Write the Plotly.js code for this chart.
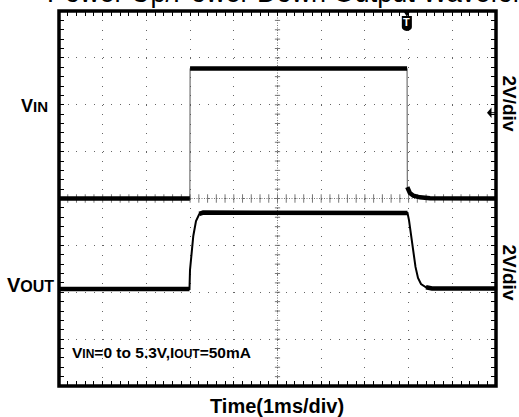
<!DOCTYPE html>
<html>
<head>
<meta charset="utf-8">
<script src="https://cdn.plot.ly/plotly-3.0.1.min.js"></script>
<style>html,body{margin:0;padding:0;background:#fff;}#chart{width:519px;height:417px;}</style>
</head>
<body>
<div id="chart"></div>
<script>
// ---- Data (time in ms, voltage in V) ----
const timeVin = [0, 2.995, 3.0, 7.965, 7.97, 8.03, 8.11, 8.26, 8.49, 10];
const vin     = [0, 0, 5.55, 5.55, 0.49, 0.23, 0.12, 0.05, 0.01, 0];

const timeVout = [0, 2.986, 2.998, 3.037, 3.073, 3.135, 3.21, 3.30, 7.975, 8.009, 8.055, 8.108, 8.158, 8.215, 8.284, 8.398, 8.535, 10];
const vout     = [0, 0, 0.81, 1.58, 2.26, 2.90, 3.20, 3.26, 3.24, 2.94, 2.30, 1.54, 0.94, 0.47, 0.21, 0.07, 0.02, 0.02];

const triggerTime = 7.96;     // ms
const triggerLevel = 3.66;    // V on VIN channel
const voutOffsetDiv = -1.93;  // VOUT channel ground position (divisions from centre)
const voltsPerDiv = 2;

const titleText = "Power Up/Power Down Output Waveform";
const xTitle = "Time(1ms/div)";
const chLabelVin = "V<span style='font-size:15px'>IN</span>";
const chLabelVout = "V<span style='font-size:16px'>OUT</span>";
const scaleLabel = "2V/div";
const condLabel = "V<span style='font-size:12px'>IN</span>=0 to 5.3V,I<span style='font-size:12px'>OUT</span>=50mA";

// ---- geometry helpers (layout only) ----
const W = 519, H = 417, ML = 59, MR = 23, MT = 11, MB = 31;
const PW = W - ML - MR, PH = H - MT - MB;
const px = v => (v - ML) / PW;
const py = v => 1 - (v - MT) / PH;
const FONT = "Liberation Sans, Arial, sans-serif";

// split a trace into "flat" part (thick) by nulling steep segments
function flatPart(t, v, maxSlope) {
  const xs = [], ys = [];
  for (let i = 0; i < t.length; i++) {
    if (i > 0) {
      const s = Math.abs((v[i] - v[i-1]) / (t[i] - t[i-1]));
      if (s > maxSlope) { xs.push(null); ys.push(null); }
    }
    xs.push(t[i]); ys.push(v[i]);
  }
  return {x: xs, y: ys};
}

const vinFlat = flatPart(timeVin, vin, 50);
const voutFlat = flatPart(timeVout, vout, 1);

const traces = [
  {x: timeVin, y: vin, type: 'scatter', mode: 'lines', line: {color: '#555', width: 1}, yaxis: 'y', hoverinfo: 'skip'},
  {x: vinFlat.x, y: vinFlat.y, type: 'scatter', mode: 'lines', line: {color: '#000', width: 4.5}, connectgaps: false, yaxis: 'y', hoverinfo: 'skip'},
  {x: timeVout, y: vout, type: 'scatter', mode: 'lines', line: {color: '#000', width: 2}, yaxis: 'y2', hoverinfo: 'skip'},
  {x: voutFlat.x, y: voutFlat.y, type: 'scatter', mode: 'lines', line: {color: '#000', width: 4.5}, connectgaps: false, yaxis: 'y2', hoverinfo: 'skip'}
];

// ---- shapes: frame, centre crosshair, markers ----
const shapes = [];
shapes.push({type: 'line', xref: 'x', yref: 'paper', x0: 5, x1: 5, y0: 0, y1: 1, layer: 'below', line: {color: '#777', width: 1, dash: '1px,1.5px'}});
shapes.push({type: 'line', xref: 'paper', yref: 'y', x0: 0, x1: 1, y0: 0, y1: 0, layer: 'below', line: {color: '#777', width: 1, dash: '1px,1.5px'}});
for (let k = -20; k <= 20; k++) {
  const yv = k * 0.4;
  shapes.push({type: 'line', xref: 'x', yref: 'y', x0: 4.94, x1: 5.06, y0: yv, y1: yv, layer: 'below', line: {color: '#777', width: 1}});
}
for (let k = 0; k <= 50; k++) {
  const xv = k * 0.2;
  shapes.push({type: 'line', xref: 'x', yref: 'y', x0: xv, x1: xv, y0: -0.18, y1: 0.18, layer: 'below', line: {color: '#777', width: 1}});
}
shapes.push({type: 'rect', xref: 'paper', yref: 'paper', x0: 0, x1: 1, y0: 0, y1: 1, line: {color: '#000', width: 3.5}});
// trigger marker triangle
shapes.push({type: 'path', xref: 'x', yref: 'paper', path: `M ${triggerTime-0.08},1 L ${triggerTime+0.08},1 L ${triggerTime},0.985 Z`, fillcolor: '#000', line: {color: '#000', width: 0}});
// trigger marker shield body
shapes.push({type: 'path', xref: 'x', yref: 'paper',
  path: `M ${triggerTime-0.115},${py(16)} L ${triggerTime+0.115},${py(16)} L ${triggerTime+0.115},${py(27)} Q ${triggerTime+0.115},${py(30)} ${triggerTime},${py(31)} Q ${triggerTime-0.115},${py(30)} ${triggerTime-0.115},${py(27)} Z`,
  fillcolor: '#000', line: {color: '#000', width: 0}});
// trigger level arrow (right edge)
shapes.push({type: 'path', xref: 'paper', yref: 'y', path: `M ${px(487)},${triggerLevel} L ${px(491.5)},${triggerLevel+0.22} L ${px(491.5)},${triggerLevel-0.22} Z`, fillcolor: '#000', line: {color: '#000', width: 0}});
shapes.push({type: 'line', xref: 'paper', yref: 'y', x0: px(490), x1: px(495), y0: triggerLevel, y1: triggerLevel, line: {color: '#000', width: 1}});

const annotations = [
  {text: titleText, xref: 'paper', yref: 'paper', x: px(45), y: py(-7.5), xanchor: 'left', yanchor: 'middle', showarrow: false, font: {family: FONT, size: 27, color: '#000'}},
  {text: '<b>' + chLabelVin + '</b>', xref: 'paper', yref: 'paper', x: px(50), y: py(106), xanchor: 'right', yanchor: 'middle', showarrow: false, font: {family: FONT, size: 18, color: '#000'}},
  {text: '<b>' + chLabelVout + '</b>', xref: 'paper', yref: 'paper', x: px(56), y: py(285), xanchor: 'right', yanchor: 'middle', showarrow: false, font: {family: FONT, size: 20, color: '#000'}},
  {text: '<b>' + scaleLabel + '</b>', xref: 'paper', yref: 'paper', x: px(509), y: py(103.5), xanchor: 'center', yanchor: 'middle', textangle: 90, showarrow: false, font: {family: FONT, size: 19, color: '#000'}},
  {text: '<b>' + scaleLabel + '</b>', xref: 'paper', yref: 'paper', x: px(509), y: py(272.5), xanchor: 'center', yanchor: 'middle', textangle: 90, showarrow: false, font: {family: FONT, size: 19, color: '#000'}},
  {text: '<b>' + condLabel + '</b>', xref: 'paper', yref: 'paper', x: px(70), y: py(352.5), xanchor: 'left', yanchor: 'middle', showarrow: false, font: {family: FONT, size: 15.5, color: '#000'}},
  {text: '<b>' + xTitle + '</b>', xref: 'paper', yref: 'paper', x: px(277), y: py(405.5), xanchor: 'center', yanchor: 'middle', showarrow: false, font: {family: FONT, size: 20, color: '#000'}},
  {text: '<b>T</b>', xref: 'x', yref: 'paper', x: triggerTime, y: py(22.5), xanchor: 'center', yanchor: 'middle', showarrow: false, font: {family: FONT, size: 11, color: '#fff'}}
];

const axisCommon = {
  showticklabels: false, zeroline: false, showline: false,
  ticks: 'inside', ticklen: 5, tickwidth: 1, tickcolor: '#000', mirror: 'ticks',
  showgrid: true, gridcolor: '#666', gridwidth: 1
};

const layout = {
  width: W, height: H,
  margin: {l: ML, r: MR, t: MT, b: MB, pad: 0},
  paper_bgcolor: '#fff', plot_bgcolor: '#fff',
  showlegend: false,
  xaxis: Object.assign({}, axisCommon, {range: [0, 10], tick0: 0, dtick: 1, griddash: '1px,8.375px',
    minor: {dtick: 0.2, tick0: 0, ticks: 'inside', ticklen: 5, tickcolor: '#000', tickwidth: 1, showgrid: false}}),
  yaxis: Object.assign({}, axisCommon, {range: [-4 * voltsPerDiv, 4 * voltsPerDiv], tick0: 0, dtick: voltsPerDiv, griddash: '1px,7.74px',
    minor: {dtick: voltsPerDiv / 5, tick0: 0, ticks: 'inside', ticklen: 5, tickcolor: '#000', tickwidth: 1, showgrid: false}}),
  yaxis2: {overlaying: 'y', visible: false, showgrid: false, zeroline: false,
    range: [(-4 - voutOffsetDiv) * voltsPerDiv, (4 - voutOffsetDiv) * voltsPerDiv]},
  shapes: shapes,
  annotations: annotations
};

Plotly.newPlot('chart', traces, layout, {staticPlot: true, displayModeBar: false});
</script>
</body>
</html>
